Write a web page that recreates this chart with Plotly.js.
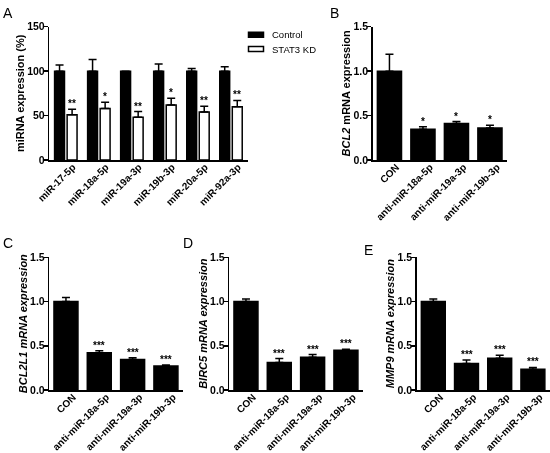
<!DOCTYPE html>
<html>
<head>
<meta charset="utf-8">
<script src="https://cdn.plot.ly/plotly-3.0.1.min.js"></script>
<style>
html,body{margin:0;padding:0;background:#fff;}
#chart{width:550px;height:453px;filter:grayscale(100%);}
</style>
</head>
<body>
<div id="chart"></div>
<script>
// ---- Data ----
const seriesNames = ['Control','STAT3 KD'];
const miRNAs = ['miR-17-5p','miR-18a-5p','miR-19a-3p','miR-19b-3p','miR-20a-5p','miR-92a-3p'];
const controlPct = [100,100,100,100,100,100];
const controlErr = [7,13,0,8,3,5];
const stat3Pct = [51,58,48,62,54,60];
const stat3Err = [6,7,6.5,7.5,6.5,7];
const stat3Sig = ['**','*','**','*','**','**'];

const antiCats = ['CON','anti-miR-18a-5p','anti-miR-19a-3p','anti-miR-19b-3p'];
const bcl2 = [1.0,0.345,0.41,0.36];
const bcl2Err = [0.19,0.03,0.022,0.03];
const bcl2Sig = ['','*','*','*'];
const bcl2l1 = [1.0,0.42,0.345,0.27];
const bcl2l1Err = [0.045,0.025,0.02,0.012];
const birc5 = [1.0,0.31,0.37,0.45];
const birc5Err = [0.03,0.045,0.03,0.01];
const mmp9 = [1.0,0.30,0.36,0.235];
const mmp9Err = [0.03,0.04,0.034,0.02];
const tripleSig = ['','***','***','***'];

// ---- Styling helpers ----
const FONT = 'Liberation Sans, Arial, sans-serif';
const W = 550, H = 453;
const px = v => v / W;
const py = v => 1 - v / H;

function zeros(n){ return new Array(n).fill(0); }

function barTrace(x, y, err, xa, ya, opts){
  return Object.assign({
    type:'bar', x:x, y:y, xaxis:xa, yaxis:ya,
    marker:{color:'#000', line:{color:'#000', width:1.5}},
    error_y:{type:'data', array:err, arrayminus:zeros(err.length), symmetric:false,
             color:'#000', thickness:1.5, width:4},
    showlegend:false, hoverinfo:'skip'
  }, opts||{});
}

function xAxis(domain, anchor, n){
  return {domain:domain, anchor:anchor, type:'category', range:[-0.5, n-0.5],
    showline:true, linecolor:'#000', linewidth:1.5, ticks:'', showgrid:false,
    zeroline:false, tickangle:-45, fixedrange:true, ticklabelshift:7, ticklabelstandoff:-4,
    tickfont:{family:FONT, size:10, color:'#000', weight:'bold'}};
}
function yAxis(domain, anchor, range, dtick, fmt, title, standoff){
  return {domain:domain, anchor:anchor, range:range, dtick:dtick, tick0:0, tickformat:fmt,
    showline:true, linecolor:'#000', linewidth:1.5, ticks:'outside', ticklen:4,
    tickwidth:1.5, tickcolor:'#000', showgrid:false, zeroline:false, fixedrange:true,
    ticklabelstandoff:-3,
    tickfont:{family:FONT, size:10.5, color:'#000', weight:'bold'},
    title:{text:title, standoff:standoff, font:{family:FONT, size:11, color:'#000', weight:'bold'}}};
}

// ---- Domains (pixel -> paper) ----
const yTop = [py(160), py(26.7)];
const yBot = [py(390), py(257.3)];

const traces = [
  barTrace(miRNAs, controlPct, controlErr, 'x', 'y', {name:seriesNames[0]}),
  barTrace(miRNAs, stat3Pct, stat3Err, 'x', 'y', {name:seriesNames[1],
    marker:{color:'#fff', line:{color:'#000', width:1.5}}}),
  barTrace(antiCats, bcl2, bcl2Err, 'x2', 'y2', {width:0.72}),
  barTrace(antiCats, bcl2l1, bcl2l1Err, 'x3', 'y3', {width:0.72}),
  barTrace(antiCats, birc5, birc5Err, 'x4', 'y4', {width:0.72}),
  barTrace(antiCats, mmp9, mmp9Err, 'x5', 'y5', {width:0.72})
];

const annotations = [];
function stars(cats, vals, errs, sig, xa, ya, xshift){
  cats.forEach((c,i)=>{
    if(!sig[i]) return;
    annotations.push({x:c, y:vals[i]+errs[i], xref:xa, yref:ya, text:sig[i],
      showarrow:false, yanchor:'bottom', xshift:xshift||0, yshift:-2,
      font:{family:FONT, size:10, color:'#000', weight:'bold'}});
  });
}
stars(miRNAs, stat3Pct, stat3Err, stat3Sig, 'x', 'y', 6.2);
stars(antiCats, bcl2, bcl2Err, bcl2Sig, 'x2', 'y2');
stars(antiCats, bcl2l1, bcl2l1Err, tripleSig, 'x3', 'y3');
stars(antiCats, birc5, birc5Err, tripleSig, 'x4', 'y4');
stars(antiCats, mmp9, mmp9Err, tripleSig, 'x5', 'y5');

// panel letters
[['A',1,3],['B',328,3],['C',1,233],['D',181,233],['E',362,240]].forEach(([t,x,y])=>{
  annotations.push({text:t, x:px(x), y:py(y), xref:'paper', yref:'paper', xanchor:'left',
    yanchor:'top', showarrow:false, font:{family:FONT, size:14, color:'#000'}});
});

// legend for panel A (key boxes drawn as shapes, labels from seriesNames)
const shapes = [];
const legendFill = ['#000','#fff'];
seriesNames.forEach((nm,i)=>{
  const yc = 34.8 + i*14.3;
  shapes.push({type:'rect', xref:'paper', yref:'paper', x0:px(248.5), x1:px(263.5),
    y0:py(yc+2.5), y1:py(yc-2.5), fillcolor:legendFill[i], line:{color:'#000', width:1.5}});
  annotations.push({text:nm, x:px(270), y:py(yc), xref:'paper', yref:'paper', xanchor:'left',
    yanchor:'middle', showarrow:false, font:{family:FONT, size:9.5, color:'#000'}});
});

const layout = {
  width:W, height:H, margin:{l:0,r:0,t:0,b:0}, paper_bgcolor:'#fff', plot_bgcolor:'#fff',
  barmode:'group', bargap:0.24, bargroupgap:0.21,
  showlegend:false,
  xaxis: xAxis([px(49.3), px(247.5)], 'y', 6),
  yaxis: yAxis(yTop, 'x', [0,150], 50, 'd', 'miRNA expression (%)', 0),
  xaxis2: xAxis([px(372.7), px(506.7)], 'y2', 4),
  yaxis2: yAxis(yTop, 'x2', [0,1.5], 0.5, '.1f', '<i>BCL2</i> mRNA expression', 0),
  xaxis3: xAxis([px(49.3), px(182.6)], 'y3', 4),
  yaxis3: yAxis(yBot, 'x3', [0,1.5], 0.5, '.1f', '<i>BCL2L1 mRNA expression</i>', 0),
  xaxis4: xAxis([px(229.3), px(362.6)], 'y4', 4),
  yaxis4: yAxis(yBot, 'x4', [0,1.5], 0.5, '.1f', '<i>BIRC5 mRNA expression</i>', 0),
  xaxis5: xAxis([px(416.7), px(549.5)], 'y5', 4),
  yaxis5: yAxis(yBot, 'x5', [0,1.5], 0.5, '.1f', '<i>MMP9 mRNA expression</i>', 0),
  shapes: shapes,
  annotations: annotations
};

Plotly.newPlot('chart', traces, layout, {staticPlot:true, displayModeBar:false});
</script>
</body>
</html>
